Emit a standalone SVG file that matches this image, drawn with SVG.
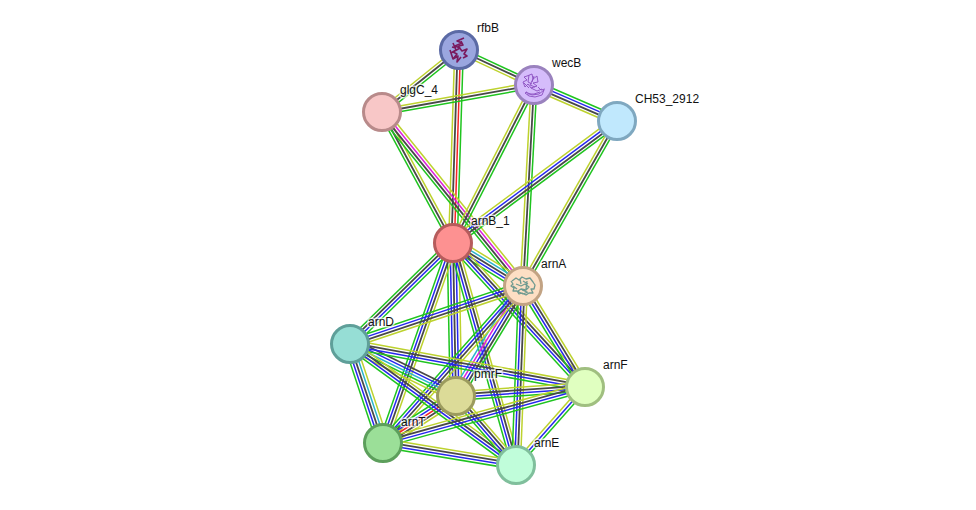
<svg xmlns="http://www.w3.org/2000/svg" width="976" height="510" viewBox="0 0 976 510">
<style>
#edges path{fill:none;stroke-width:1.5}
#edges .k{stroke-width:1.8}
.g{stroke:#1fc41f}.k{stroke:#484848}.b{stroke:#2626ee}.y{stroke:#bdd22e}.r{stroke:#f52525}.m{stroke:#dc1fdc}.c{stroke:#2ab4cc}
.n{stroke-width:3}
.s{fill:none;stroke-linejoin:round}
text{font-family:"Liberation Sans",Arial,sans-serif;font-size:12px;fill:#111;stroke:#fff;stroke-opacity:.7;stroke-width:3px;paint-order:stroke;stroke-linejoin:round}
</style>
<rect width="976" height="510" fill="#fff"/>
<g id="edges">
<g transform="translate(459 50) rotate(25)"><path class="g" d="M0-2.9H83"/><path class="k" d="M0 0H83"/><path class="y" d="M0 2.9H83"/></g>
<g transform="translate(459 50) rotate(141.2)"><path class="y" d="M0 2.9H99"/><path class="k" d="M0 0H99"/><path class="g" d="M0-2.9H99"/></g>
<g transform="translate(459 50) rotate(91.8)"><path class="y" d="M0 4.3H193"/><path class="k" d="M0 1.45H193"/><path class="r" d="M0-1.45H193"/><path class="g" d="M0-4.3H193"/></g>
<g transform="translate(382 112) rotate(-10.1)"><path class="y" d="M0-2.9H154"/><path class="k" d="M0 0H154"/><path class="g" d="M0 2.9H154"/></g>
<g transform="translate(534 85) rotate(23.4)"><path class="g" d="M0-4.3H90"/><path class="b" d="M0-1.45H90"/><path class="k" d="M0 1.45H90"/><path class="y" d="M0 4.3H90"/></g>
<g transform="translate(382 112) rotate(61.5)"><path class="g" d="M0 2.9H149"/><path class="k" d="M0 0H149"/><path class="y" d="M0-2.9H149"/></g>
<g transform="translate(382 112) rotate(51)"><path class="y" d="M0-4.3H224"/><path class="m" d="M0-1.45H224"/><path class="k" d="M0 1.45H224"/><path class="g" d="M0 4.3H224"/></g>
<g transform="translate(534 85) rotate(117.1)"><path class="y" d="M0 2.9H178"/><path class="k" d="M0 0H178"/><path class="g" d="M0-2.9H178"/></g>
<g transform="translate(534 85) rotate(93.1)"><path class="y" d="M0 2.9H201"/><path class="k" d="M0 0H201"/><path class="g" d="M0-2.9H201"/></g>
<g transform="translate(617 121) rotate(143.4)"><path class="y" d="M0 4.3H204"/><path class="b" d="M0 1.45H204"/><path class="k" d="M0-1.45H204"/><path class="g" d="M0-4.3H204"/></g>
<g transform="translate(617 121) rotate(119.7)"><path class="y" d="M0 2.9H190"/><path class="k" d="M0 0H190"/><path class="g" d="M0-2.9H190"/></g>
<g transform="translate(453 243) rotate(31.6)"><path class="y" d="M0-5.8H82"/><path class="c" d="M0-2.9H82"/><path class="k" d="M0 0H82"/><path class="b" d="M0 2.9H82"/><path class="g" d="M0 5.8H82"/></g>
<g transform="translate(453 243) rotate(135.6)"><path class="g" d="M0 4.3H144"/><path class="k" d="M0 1.45H144"/><path class="b" d="M0-1.45H144"/><path class="g" d="M0-4.3H144"/></g>
<g transform="translate(453 243) rotate(88.9)"><path class="g" d="M0 5.8H153"/><path class="b" d="M0 2.9H153"/><path class="k" d="M0 0H153"/><path class="b" d="M0-2.9H153"/><path class="y" d="M0-5.8H153"/></g>
<g transform="translate(453 243) rotate(109.3)"><path class="g" d="M0 4.3H212"/><path class="b" d="M0 1.45H212"/><path class="k" d="M0-1.45H212"/><path class="y" d="M0-4.3H212"/></g>
<g transform="translate(453 243) rotate(47.5)"><path class="y" d="M0-4.3H195"/><path class="k" d="M0-1.45H195"/><path class="b" d="M0 1.45H195"/><path class="g" d="M0 4.3H195"/></g>
<g transform="translate(453 243) rotate(74.2)"><path class="g" d="M0 4.3H231"/><path class="b" d="M0 1.45H231"/><path class="k" d="M0-1.45H231"/><path class="y" d="M0-4.3H231"/></g>
<g transform="translate(523 286) rotate(161.5)"><path class="g" d="M0 4.3H182"/><path class="b" d="M0 1.45H182"/><path class="k" d="M0-1.45H182"/><path class="y" d="M0-4.3H182"/></g>
<g transform="translate(523 286) rotate(121.3)"><path class="c" d="M0 5.8H129"/><path class="m" d="M0 2.9H129"/><path class="b" d="M0 0H129"/><path class="k" d="M0-2.9H129"/><path class="g" d="M0-5.8H129"/></g>
<g transform="translate(523 286) rotate(58.5)"><path class="g" d="M0 4.3H118"/><path class="b" d="M0 1.45H118"/><path class="k" d="M0-1.45H118"/><path class="y" d="M0-4.3H118"/></g>
<g transform="translate(523 286) rotate(92.2)"><path class="g" d="M0 4.3H179"/><path class="b" d="M0 1.45H179"/><path class="k" d="M0-1.45H179"/><path class="y" d="M0-4.3H179"/></g>
<g transform="translate(523 286) rotate(131.7)"><path class="g" d="M0 4.3H210"/><path class="b" d="M0 1.45H210"/><path class="k" d="M0-1.45H210"/><path class="y" d="M0-4.3H210"/></g>
<g transform="translate(383 443) rotate(-32.8)"><path class="g" d="M0-5.8H87"/><path class="b" d="M0-2.9H87"/><path class="r" d="M0 0H87"/><path class="k" d="M0 2.9H87"/><path class="y" d="M0 5.8H87"/></g>
<g transform="translate(350 344) rotate(26.1)"><path class="k" d="M0-5.8H118"/><path class="b" d="M0-2.9H118"/><path class="c" d="M0 0H118"/><path class="g" d="M0 2.9H118"/><path class="y" d="M0 5.8H118"/></g>
<g transform="translate(350 344) rotate(10.4)"><path class="y" d="M0-4.3H239"/><path class="k" d="M0-1.45H239"/><path class="b" d="M0 1.45H239"/><path class="g" d="M0 4.3H239"/></g>
<g transform="translate(350 344) rotate(36.1)"><path class="y" d="M0-4.3H205"/><path class="k" d="M0-1.45H205"/><path class="b" d="M0 1.45H205"/><path class="g" d="M0 4.3H205"/></g>
<g transform="translate(350 344) rotate(71.6)"><path class="g" d="M0 5.8H104"/><path class="b" d="M0 2.9H104"/><path class="k" d="M0 0H104"/><path class="c" d="M0-2.9H104"/><path class="y" d="M0-5.8H104"/></g>
<g transform="translate(456 396) rotate(-4)"><path class="y" d="M0-4.3H129"/><path class="k" d="M0-1.45H129"/><path class="b" d="M0 1.45H129"/><path class="g" d="M0 4.3H129"/></g>
<g transform="translate(456 396) rotate(49)"><path class="y" d="M0-4.3H91"/><path class="k" d="M0-1.45H91"/><path class="b" d="M0 1.45H91"/><path class="g" d="M0 4.3H91"/></g>
<g transform="translate(383 443) rotate(-15.5)"><path class="y" d="M0-4.3H210"/><path class="k" d="M0-1.45H210"/><path class="b" d="M0 1.45H210"/><path class="g" d="M0 4.3H210"/></g>
<g transform="translate(383 443) rotate(9.4)"><path class="y" d="M0-4.3H135"/><path class="k" d="M0-1.45H135"/><path class="b" d="M0 1.45H135"/><path class="g" d="M0 4.3H135"/></g>
<g transform="translate(585 387) rotate(131.5)"><path class="y" d="M0 2.9H104"/><path class="b" d="M0 0H104"/><path class="g" d="M0-2.9H104"/></g>
</g>
<g id="node-rfbB"><circle class="n" cx="459" cy="50" r="18.5" fill="#9aa6df" stroke="#5b6aa5"/>
<path class="s" stroke="#7a1a5e" stroke-width="1.6" d="M464 38l-7 3 5 2-7 3 5 2-7 4 4 2-4 5 5-3-1 6 4-5M453 43l3 7-5 3M458 46l4 5 5-2-3 5 3 2-4 2M450 50l3 9M461 41l2 4-4 1M452 47l4 1"/></g>
<g id="node-wecB"><circle class="n" cx="534" cy="85" r="18.5" fill="#d5bcfb" stroke="#9a82be"/>
<path class="s" stroke="#8a4ec0" stroke-width=".9" d="M527 76l5-2 1 5 4-3 1 6-5 1 4 3-6 2-3-4-3 3-2-5 4-2-3-3 3-1M533 79l-3 6 5 2M526 92l6 3 7-1 5-4-2 5-7 2-6-1-4-3 2-1M538 87l3 3 4-1M529 75l-1 7 4 2M524 83l5 5M531 88l6 3 5-2M527 94l7 0 6-2M534 76l-2 6"/></g>
<g id="node-CH53_2912"><circle class="n" cx="617" cy="121" r="18.5" fill="#c0e8fd" stroke="#7fa8c0"/></g>
<g id="node-glgC_4"><circle class="n" cx="382" cy="112" r="18.5" fill="#f8c7c7" stroke="#b88a8a"/></g>
<g id="node-arnB_1"><circle class="n" cx="453" cy="243" r="18.5" fill="#fd9191" stroke="#b65c5c"/></g>
<g id="node-arnA"><circle class="n" cx="523" cy="286" r="18.5" fill="#fddfc4" stroke="#c2a384"/>
<path class="s" stroke="#6f9a90" stroke-width="1.3" d="M512 281l4-3 3 2 3-3 4 2 4-1 3 4 2 3-1 4-3 0 2 4-4 0-3 2-4-2-3 1-2-3-4 0 1-3-3-2 2-2-2-3M516 284l5 2 4-2 4 3-3 3-5-1-3 2M520 279l1 5M527 281l-1 8M517 291l6 3 5-2M513 286l4 3M523 281l5 3M522 290l5 2"/></g>
<g id="node-arnD"><circle class="n" cx="350" cy="344" r="18.5" fill="#96ded5" stroke="#5f9f99"/></g>
<g id="node-pmrF"><circle class="n" cx="456" cy="396" r="18.5" fill="#dcdb98" stroke="#9c9b5e"/></g>
<g id="node-arnF"><circle class="n" cx="585" cy="387" r="18.5" fill="#e0ffc0" stroke="#a0bf80"/></g>
<g id="node-arnT"><circle class="n" cx="383" cy="443" r="18.5" fill="#9bdf98" stroke="#5d9f5c"/></g>
<g id="node-arnE"><circle class="n" cx="516" cy="465" r="18.5" fill="#c0fdda" stroke="#80bf9c"/></g>
<g id="labels">
<text x="477" y="32">rfbB</text>
<text x="552" y="67">wecB</text>
<text x="635" y="103">CH53_2912</text>
<text x="400" y="94">glgC_4</text>
<text x="471" y="225">arnB_1</text>
<text x="541" y="268">arnA</text>
<text x="368" y="326">arnD</text>
<text x="474" y="378">pmrF</text>
<text x="603" y="369">arnF</text>
<text x="401" y="426">arnT</text>
<text x="534" y="447">arnE</text>
</g>
</svg>
